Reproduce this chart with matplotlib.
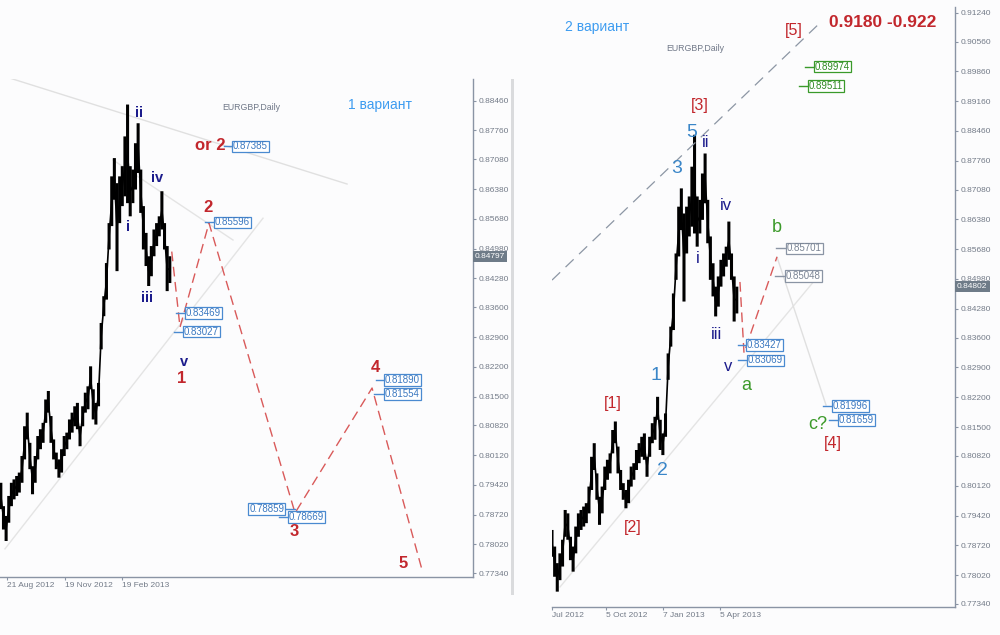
import matplotlib
matplotlib.use("Agg")
import matplotlib.pyplot as plt
from matplotlib.patches import Rectangle
import numpy as np

plt.rcParams['font.family'] = ['Liberation Sans', 'DejaVu Sans']

# EURGBP daily, one high/low pair every 3 trading days
bar_step = 3
highs = [0.7908, 0.7869, 0.7830, 0.7853, 0.7885, 0.7955, 0.7947, 0.7892, 0.7869, 0.7916,
         0.7947, 0.7955, 0.7963, 0.7971, 0.8010, 0.8080, 0.8112, 0.8041, 0.7986, 0.8010,
         0.8057, 0.8073, 0.8088, 0.8143, 0.8163, 0.8104, 0.8049, 0.8018, 0.8002, 0.8026,
         0.8057, 0.8065, 0.8096, 0.8112, 0.8127, 0.8135, 0.8080, 0.8127, 0.8159, 0.8174,
         0.8221, 0.8167, 0.8135, 0.8182, 0.8323, 0.8386, 0.8464, 0.8558, 0.8668, 0.8711,
         0.8652, 0.8668, 0.8692, 0.8762, 0.8837, 0.8692, 0.8684, 0.8746, 0.8793, 0.8684,
         0.8598, 0.8535, 0.8480, 0.8504, 0.8543, 0.8558, 0.8574, 0.8633, 0.8558, 0.8504,
         0.8480]
lows = [0.7845, 0.7798, 0.7763, 0.7790, 0.7822, 0.7892, 0.7885, 0.7837, 0.7810, 0.7853,
        0.7892, 0.7908, 0.7916, 0.7924, 0.7947, 0.8002, 0.8049, 0.7979, 0.7920, 0.7947,
        0.8002, 0.8026, 0.8041, 0.8088, 0.8112, 0.8041, 0.8002, 0.7979, 0.7959, 0.7971,
        0.8010, 0.8026, 0.8049, 0.8065, 0.8080, 0.8073, 0.8033, 0.8080, 0.8112, 0.8120,
        0.8167, 0.8096, 0.8084, 0.8127, 0.8261, 0.8339, 0.8378, 0.8496, 0.8551, 0.8613,
        0.8445, 0.8558, 0.8598, 0.8621, 0.8605, 0.8574, 0.8605, 0.8637, 0.8676, 0.8582,
        0.8496, 0.8457, 0.8410, 0.8433, 0.8480, 0.8504, 0.8527, 0.8543, 0.8496, 0.8398,
        0.8417]
bars = np.arange(len(highs)) * bar_step

price_ticks = [0.77340, 0.78020, 0.78720, 0.79420, 0.80120, 0.80820, 0.81500, 0.82200,
               0.82900, 0.83600, 0.84280, 0.84980, 0.85680, 0.86380, 0.87080, 0.87760,
               0.88460, 0.89160, 0.89860, 0.90560, 0.91240]

left_dates = ['21 Aug 2012', '19 Nov 2012', '19 Feb 2013']
left_date_bars = [25, 91, 156]
right_dates = ['Jul 2012', '5 Oct 2012', '7 Jan 2013', '5 Apr 2013']
right_date_bars = [0, 61, 126, 191]

left_last, right_last = 0.84797, 0.84802

# variant 1: impulse 1-2-3-4-5 down
left_path_x = [212.2, 221.6, 254.5, 352.3, 439.8, 496.6]
left_path_y = [0.8491, 0.8313, 0.8558, 0.7876, 0.8170, 0.7742]
# variant 2: a-b correction
right_path_x = [213.6, 218.2, 255.7]
right_path_y = [0.8491, 0.8324, 0.8550]

# price markers: (price, line from, line to)
left_marks = [(0.87385, 271.6, 280.7), (0.85596, 250.0, 260.2), (0.83469, 217.0, 227.3),
              (0.83027, 214.8, 225.0), (0.81890, 444.3, 453.4), (0.81554, 442.0, 453.4),
              (0.78669, 334.1, 344.3)]
right_green = [(0.89974, 287.5, 297.7), (0.89511, 280.7, 290.9)]
right_grey = [(0.85701, 254.5, 265.9), (0.85048, 253.4, 264.8)]
right_blue = [(0.83427, 211.4, 220.5), (0.83069, 211.4, 221.6),
              (0.81996, 308.0, 318.2), (0.81659, 314.8, 325.0)]

red = '#c2272d'
navy = '#1c1c8c'
blue = '#3a86c8'
green = '#3c9a2a'
light_blue = '#3d9cf0'
axis_col = '#8a94a4'
tick_col = '#737b88'

fig = plt.figure(figsize=(10, 6.35), dpi=100, facecolor='#fcfcfd')
axl = fig.add_axes([0.0, 1 - 577 / 635, 0.473, 498 / 635])
axr = fig.add_axes([0.552, 1 - 607 / 635, 0.403, 600 / 635])


def setup(ax, xlim, ylim, date_bars, dates, last):
    ax.set_facecolor('none')
    ax.vlines(bars, lows, highs, color='black', lw=2.2, snap=False)
    mid = (np.array(highs) + np.array(lows)) / 2
    ax.plot(bars, mid, color='black', lw=1.2)
    ax.set_xlim(*xlim)
    ax.set_ylim(*ylim)
    for s in ['left', 'top']:
        ax.spines[s].set_visible(False)
    for s in ['right', 'bottom']:
        ax.spines[s].set_color(axis_col)
        ax.spines[s].set_linewidth(1)
    ax.yaxis.tick_right()
    ax.set_yticks([t for t in price_ticks if ylim[0] < t < ylim[1]])
    ax.yaxis.set_major_formatter(plt.FormatStrFormatter('%.5f'))
    ax.set_xticks(date_bars)
    ax.set_xticklabels(dates)
    for lbl in ax.get_xticklabels():
        lbl.set_ha('left')
    ax.tick_params(direction='out', length=2.2, width=0.8, color=axis_col,
                   labelsize=6, labelcolor=tick_col, pad=1.5)
    ax.annotate(f'{last:.5f}', xy=(1, last), xycoords=('axes fraction', 'data'),
                xytext=(1.5, 0), textcoords='offset points', ha='left', va='center',
                color='white', fontsize=6, zorder=10,
                bbox=dict(boxstyle='square,pad=0.25', fc='#6e7b88', ec='none'))


def mark(ax, price, x0, x1, ec, tc, ha='left'):
    ax.plot([x0, x1], [price, price], color=ec, lw=1)
    xt = x1 + 1 if ha == 'left' else x0 - 1
    ax.text(xt, price, f'{price:.5f}', color=tc, fontsize=7, ha=ha, va='center',
            bbox=dict(boxstyle='square,pad=0.08', fc='white', ec=ec, lw=0.9))


def wave(ax, x, y, s, color, size, weight='normal'):
    ax.text(x, y, s, color=color, fontsize=size, fontweight=weight,
            ha='center', va='center', zorder=6)


setup(axl, (17.05, 554.5), (0.77253, 0.88971), left_date_bars, left_dates, left_last)
setup(axr, (0.0, 458.0), (0.77269, 0.91374), right_date_bars, right_dates, right_last)

# ---- left: variant 1
axl.plot([17.0, 411.4], [0.89065, 0.8650], color='#e0e0e0', lw=1, zorder=0)
axl.plot([145.5, 281.8], [0.87065, 0.85182], color='#e4e4e4', lw=1, zorder=0)
axl.plot([22.7, 315.9], [0.77915, 0.85696], color='#e4e4e4', lw=1, zorder=0)
axl.plot(left_path_x, left_path_y, color='#d95a5a', lw=1, dashes=(7, 4))
for p, a, b in left_marks:
    mark(axl, p, a, b, '#4a8ad0', '#3b78c0')
mark(axl, 0.78859, 340.9, 352.3, '#4a8ad0', '#3b78c0', ha='right')

axl.text(302.3, 0.88312, 'EURGBP,Daily', color='#707888', fontsize=6.3, ha='center', va='center')
axl.text(448.9, 0.88359, '1 вариант', color=light_blue, fontsize=10, ha='center', va='center')
for s, x, y in [('ii', 175, 0.88171), ('i', 162.5, 0.85488), ('iv', 195.5, 0.86641),
                ('iii', 184.1, 0.83818), ('v', 226.1, 0.82312)]:
    wave(axl, x, y, s, navy, 10.5, 'bold')
for s, x, y in [('1', 223.9, 0.81935), ('2', 253.4, 0.85959), ('or 2', 255.7, 0.87418),
                ('3', 351.1, 0.78312), ('4', 443.2, 0.82194), ('5', 475.0, 0.77582)]:
    wave(axl, x, y, s, red, 12, 'bold')

# ---- right: variant 2
axr.plot([0, 306.8], [0.84954, 0.91045], color='#8c96a4', lw=0.9, dashes=(9, 6))
axr.plot([9.1, 298.9], [0.7774, 0.84957], color='#e4e4e4', lw=1, zorder=0)
axr.plot([255.7, 311.4], [0.85497, 0.82018], color='#e0e0e0', lw=1, zorder=0)
axr.plot(right_path_x, right_path_y, color='#d95a5a', lw=1, dashes=(7, 4))
for p, a, b in right_green:
    mark(axr, p, a, b, '#3a9a2a', '#2e8a22')
for p, a, b in right_grey:
    mark(axr, p, a, b, '#8a94a4', '#7a8494')
for p, a, b in right_blue:
    mark(axr, p, a, b, '#4a8ad0', '#3b78c0')

axr.text(162.5, 0.9041, 'EURGBP,Daily', color='#707888', fontsize=6.3, ha='center', va='center')
axr.text(51.1, 0.90904, '2 вариант', color=light_blue, fontsize=10, ha='center', va='center')
axr.text(376.1, 0.90998, '0.9180 -0.922', color=red, fontsize=12.5, fontweight='bold',
         ha='center', va='center')
for s, x, y in [('[5]', 275, 0.9081), ('[3]', 168.2, 0.89047), ('[1]', 69.3, 0.82042),
                ('[2]', 92, 0.79127), ('[4]', 319.3, 0.81101)]:
    wave(axr, x, y, s, red, 11.5)
for s, x, y in [('5', 159.0, 0.88420), ('3', 142, 0.87589), ('1', 118.2, 0.827),
                ('2', 125, 0.80467)]:
    wave(axr, x, y, s, blue, 14)
for s, x, y in [('ii', 175, 0.88177), ('iv', 197.7, 0.86696), ('i', 165.9, 0.85473),
                ('iii', 186.4, 0.83664), ('v', 200, 0.82911)]:
    wave(axr, x, y, s, navy, 12)
for s, x, y in [('b', 255.7, 0.86202), ('a', 220.5, 0.82465), ('c?', 302.3, 0.81571)]:
    wave(axr, x, y, s, green, 13)

# scrollbar strip at the edge of the first screenshot
fig.add_artist(Rectangle((511 / 1000, 1 - 595 / 635), 3 / 1000, 516 / 635,
                         transform=fig.transFigure, color='#dadbdd', lw=0))

fig.savefig('out.png', dpi=100, facecolor=fig.get_facecolor())
